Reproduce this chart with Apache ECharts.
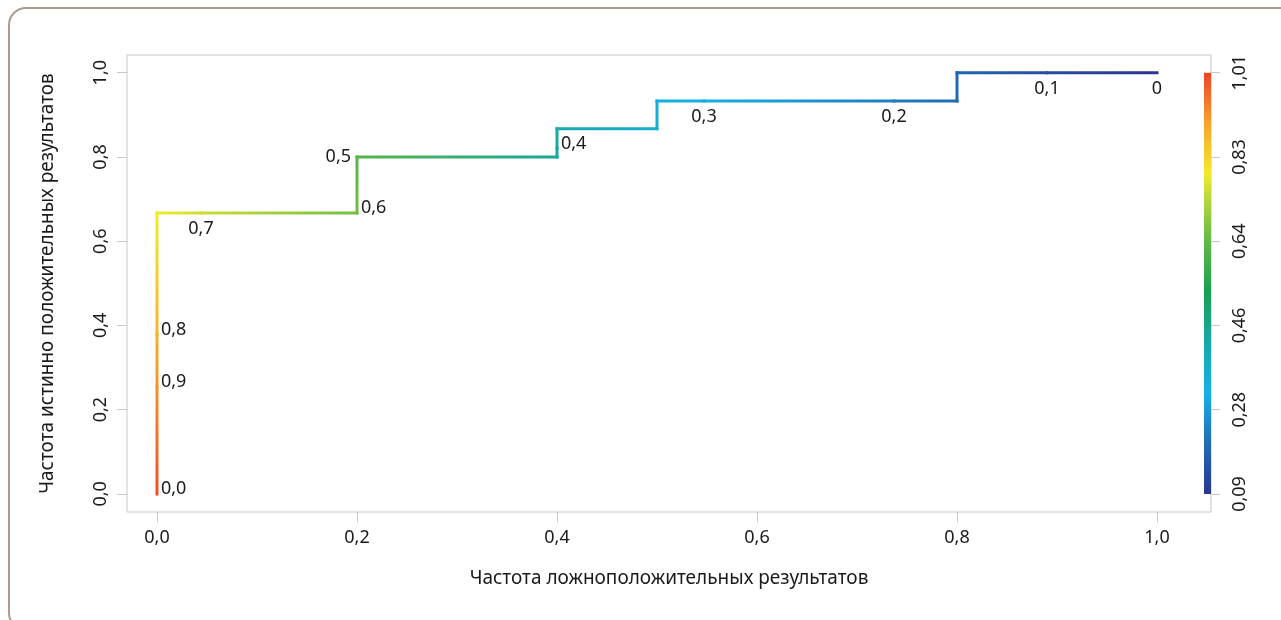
<!DOCTYPE html>
<html>
<head>
<meta charset="utf-8">
<script src="https://cdn.jsdelivr.net/npm/echarts@6/dist/echarts.min.js"></script>
<style>
html,body{margin:0;padding:0;background:#fff;}
#chart{width:1281px;height:620px;}
</style>
</head>
<body>
<div id="chart"></div>
<script>
const curveFpr = [0, 0, 0, 0, 0.044, 0.2, 0.2, 0.4, 0.4, 0.4, 0.5, 0.5, 0.547, 0.737, 0.8, 0.8, 0.89, 1.0];
const curveTpr = [0, 0.254, 0.378, 0.667, 0.667, 0.667, 0.8, 0.8, 0.82, 0.867, 0.867, 0.933, 0.933, 0.933, 0.933, 1.0, 1.0, 1.0];
const curveThr = [1.0, 0.92, 0.88, 0.79, 0.755, 0.66, 0.625, 0.44, 0.43, 0.41, 0.35, 0.33, 0.31, 0.23, 0.20, 0.19, 0.14, 0.09];

// threshold annotations
const labelText = ['0,0', '0,9', '0,8', '0,7', '0,6', '0,5', '0,4', '0,3', '0,2', '0,1', '0'];
const labelFpr  = [0, 0, 0, 0.044, 0.2, 0.2, 0.4, 0.547, 0.737, 0.89, 1.0];
const labelTpr  = [0, 0.254, 0.378, 0.667, 0.667, 0.8, 0.82, 0.933, 0.933, 1.0, 1.0];
const labelSide = ['right', 'right', 'right', 'below', 'right', 'left', 'right', 'below', 'below', 'below', 'below'];

// axis ticks
const xTicks = [0, 0.2, 0.4, 0.6, 0.8, 1.0];
const yTicks = [0, 0.2, 0.4, 0.6, 0.8, 1.0];
const cbTicks = [0.092, 0.276, 0.46, 0.644, 0.828, 1.012];
const cbMin = 0.092, cbMax = 1.012;

const xTitle = 'Частота ложноположительных результатов';
const yTitle = 'Частота истинно положительных результатов';

// colour ramp (fraction of colour bar, colour)
const rampPos = [0.00, 0.12, 0.24, 0.36, 0.48, 0.60, 0.70, 0.76, 0.88, 1.00];
const rampCol = ['#2b3590', '#1f6db6', '#17b0e6', '#17a9a6', '#1a9e52', '#62b946', '#b8d73c', '#f4ea2b', '#f7a32e', '#ee4226'];

function hex2rgb(h){ return [parseInt(h.substr(1,2),16), parseInt(h.substr(3,2),16), parseInt(h.substr(5,2),16)]; }
function colorAtFrac(f){
  f = Math.max(0, Math.min(1, f));
  for (let i = 0; i < rampPos.length - 1; i++) {
    if (f <= rampPos[i+1]) {
      const t = (f - rampPos[i]) / (rampPos[i+1] - rampPos[i]);
      const a = hex2rgb(rampCol[i]), b = hex2rgb(rampCol[i+1]);
      const c = a.map((v, k) => Math.round(v + (b[k] - v) * t));
      return 'rgb(' + c.join(',') + ')';
    }
  }
  return rampCol[rampCol.length - 1];
}
function colorAt(thr){ return colorAtFrac((thr - cbMin) / (cbMax - cbMin)); }

const FONT = "'Noto Sans', 'Open Sans', sans-serif";
const TXT = '#1a1a1a';
const AX = '#c8c8c8';
const fmt1 = v => v.toFixed(1).replace('.', ',');

const series = [];
for (let i = 0; i < curveFpr.length - 1; i++) {
  const vertical = curveFpr[i] === curveFpr[i+1];
  const grad = {
    type: 'linear',
    x: 0, y: vertical ? 1 : 0, x2: vertical ? 0 : 1, y2: 0,
    colorStops: [{offset: 0, color: colorAt(curveThr[i])}, {offset: 1, color: colorAt(curveThr[i+1])}]
  };
  series.push({
    type: 'line',
    xAxisIndex: 0, yAxisIndex: 0,
    data: [[curveFpr[i], curveTpr[i]], [curveFpr[i+1], curveTpr[i+1]]],
    showSymbol: false,
    silent: true,
    lineStyle: {width: 3, color: grad, cap: 'square', join: 'miter'},
    z: 3
  });
}

const sidePlacement = {
  right: {position: 'right', distance: 4, offset: [0, -5]},
  left:  {position: 'left', distance: 6, offset: [0, 0]},
  below: {position: 'bottom', distance: 7, offset: [0, 0]}
};
series.push({
  type: 'scatter',
  xAxisIndex: 0, yAxisIndex: 0,
  symbolSize: 0,
  silent: true,
  itemStyle: {opacity: 1},
  data: labelText.map((t, i) => ({
    value: [labelFpr[i], labelTpr[i]],
    label: Object.assign({show: true, formatter: t, color: TXT, fontSize: 18, fontFamily: FONT}, sidePlacement[labelSide[i]])
  })),
  z: 4
});

// colour bar: spacer from axis start to cbMin, then gradient bar from cbMin to cbMax
series.push({
  type: 'bar', xAxisIndex: 1, yAxisIndex: 1, stack: 'cb', silent: true,
  barWidth: '100%', itemStyle: {color: 'transparent'},
  data: [cbMin]
});
series.push({
  type: 'bar', xAxisIndex: 1, yAxisIndex: 1, stack: 'cb', silent: true,
  barWidth: '100%',
  itemStyle: {color: {type: 'linear', x: 0, y: 1, x2: 0, y2: 0,
    colorStops: rampPos.map((p, k) => ({offset: p, color: rampCol[k]}))}},
  data: [cbMax - cbMin]
});

const chart = echarts.init(document.getElementById('chart'), null, {renderer: 'canvas'});
chart.setOption({
  animation: false,
  textStyle: {fontFamily: FONT},
  graphic: [{
    type: 'rect', z: -10, silent: true,
    shape: {x: 9, y: 8, width: 1320, height: 622, r: 17},
    style: {fill: 'none', stroke: '#ab9b8d', lineWidth: 2}
  }],
  grid: [
    {left: 127, right: 70, top: 55, bottom: 108, show: true, borderColor: AX, borderWidth: 1, backgroundColor: 'transparent'},
    {left: 1204, right: 70, top: 72.7, bottom: 126}
  ],
  xAxis: [{
    type: 'value', gridIndex: 0, min: -0.03, max: 1.054,
    name: xTitle, nameLocation: 'middle', nameGap: 57,
    nameTextStyle: {color: TXT, fontSize: 19, fontFamily: FONT},
    axisLine: {show: false, onZero: false},
    axisTick: {show: true, length: 10, lineStyle: {color: AX}, customValues: xTicks},
    axisLabel: {color: TXT, fontSize: 18, margin: 17, fontFamily: FONT, formatter: fmt1, customValues: xTicks},
    splitLine: {show: false}
  }, {
    type: 'category', gridIndex: 1, show: false, data: ['cb'],
    axisLine: {onZero: false}
  }],
  yAxis: [{
    type: 'value', gridIndex: 0, min: -0.043, max: 1.042,
    name: yTitle, nameLocation: 'middle', nameGap: 70,
    nameTextStyle: {color: TXT, fontSize: 19, fontFamily: FONT},
    axisLine: {show: false, onZero: false},
    axisTick: {show: true, length: 10, lineStyle: {color: AX}, customValues: yTicks},
    axisLabel: {color: TXT, fontSize: 18, margin: 17, rotate: 90, fontFamily: FONT, formatter: fmt1, customValues: yTicks},
    splitLine: {show: false}
  }, {
    type: 'value', gridIndex: 1, position: 'right', min: cbMin, max: cbMax,
    axisLine: {show: false, onZero: false},
    axisTick: {show: true, length: 9, lineStyle: {color: AX}, customValues: cbTicks},
    axisLabel: {color: TXT, fontSize: 18, margin: 20, rotate: 90, fontFamily: FONT,
      formatter: v => v.toFixed(2).replace('.', ','), customValues: cbTicks},
    splitLine: {show: false}
  }],
  series: series
});
</script>
</body>
</html>
